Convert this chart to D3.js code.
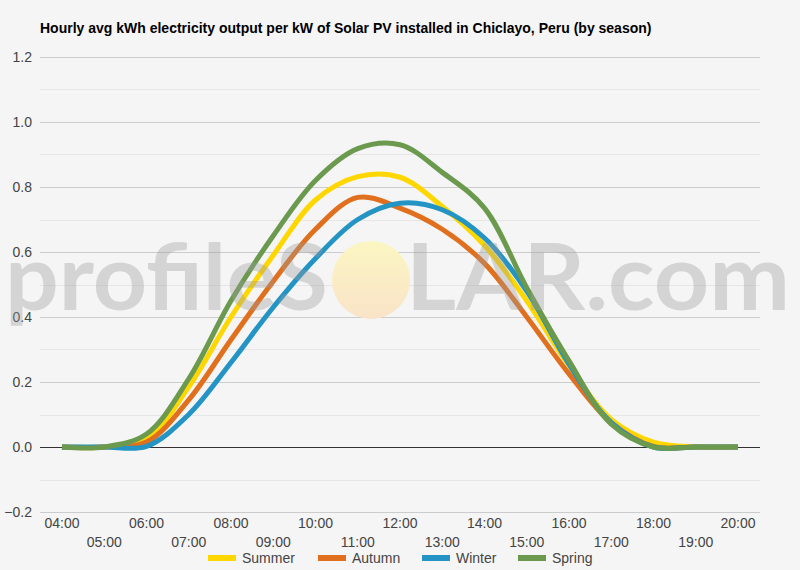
<!DOCTYPE html>
<html>
<head>
<meta charset="utf-8">
<script src="https://cdn.jsdelivr.net/npm/d3@7"></script>
<style>
  html, body { margin: 0; padding: 0; background: #f5f5f5; }
  svg { display: block; font-family: "Liberation Sans", Arial, sans-serif; }
</style>
</head>
<body>
<svg id="chart" width="800" height="570"></svg>
<script>
const titleText = "Hourly avg kWh electricity output per kW of Solar PV installed in Chiclayo, Peru (by season)";
const hours = ["04:00","05:00","06:00","07:00","08:00","09:00","10:00","11:00","12:00","13:00","14:00","15:00","16:00","17:00","18:00","19:00","20:00"];
const summer = [0, 0, 0.025, 0.185, 0.40, 0.59, 0.76, 0.832, 0.83, 0.74, 0.62, 0.45, 0.25, 0.085, 0.015, 0, 0];
const autumn = [0, 0, 0.015, 0.145, 0.33, 0.51, 0.67, 0.768, 0.735, 0.67, 0.565, 0.40, 0.225, 0.075, 0.002, 0, 0];
const winter = [0, 0, 0.002, 0.10, 0.26, 0.43, 0.58, 0.70, 0.75, 0.73, 0.643, 0.48, 0.255, 0.075, 0, 0, 0];
const spring = [0, 0, 0.04, 0.21, 0.45, 0.65, 0.82, 0.918, 0.93, 0.845, 0.735, 0.49, 0.265, 0.07, 0, 0, 0];
const seriesNames = ["Summer", "Autumn", "Winter", "Spring"];
const seriesColors = ["#FFD700", "#E0701E", "#2394C4", "#6B9A4F"];
const yTicks = [-0.2, 0, 0.2, 0.4, 0.6, 0.8, 1.0, 1.2];

const allSeries = [summer, autumn, winter, spring];

const svg = d3.select("#chart");
const W = 800, H = 570;
const plot = { left: 40, right: 760, top: 57, bottom: 512 };

svg.append("rect").attr("width", W).attr("height", H).attr("fill", "#f5f5f5");

const x = d3.scalePoint().domain(hours).range([62, 738]);
const y = d3.scaleLinear().domain([-0.2, 1.2]).range([plot.bottom, plot.top]);

// minor gridlines
const minor = d3.range(-0.1, 1.2, 0.2).map(v => +v.toFixed(2));
svg.append("g").selectAll("line").data(minor).join("line")
  .attr("x1", plot.left).attr("x2", plot.right)
  .attr("y1", d => Math.round(y(d)) + 0.5).attr("y2", d => Math.round(y(d)) + 0.5)
  .attr("stroke", "#e6e6e6").attr("stroke-width", 1);

// major gridlines
svg.append("g").selectAll("line").data(yTicks.filter(v => v !== 0)).join("line")
  .attr("x1", plot.left).attr("x2", plot.right)
  .attr("y1", d => Math.round(y(d)) + 0.5).attr("y2", d => Math.round(y(d)) + 0.5)
  .attr("stroke", "#cccccc").attr("stroke-width", 1);

// y axis labels
const yAxis = d3.axisLeft(y).tickValues(yTicks).tickFormat(d3.format(".1f")).tickSize(0).tickPadding(8);
const yg = svg.append("g").attr("transform", `translate(${plot.left},0)`).call(yAxis);
yg.select(".domain").remove();
yg.selectAll("text").attr("font-size", 14).attr("fill", "#444").attr("font-family", "Liberation Sans, Arial, sans-serif");

// sun (under lines)
const defs = svg.append("defs");
const grad = defs.append("linearGradient").attr("id", "sun").attr("x1", 0).attr("y1", 0).attr("x2", 0).attr("y2", 1);
grad.append("stop").attr("offset", "0%").attr("stop-color", "#fbf6c2");
grad.append("stop").attr("offset", "100%").attr("stop-color", "#f9e3c8");
svg.append("circle").attr("cx", 371).attr("cy", 280).attr("r", 39).attr("fill", "url(#sun)");

// zero baseline
svg.append("line").attr("x1", plot.left).attr("x2", plot.right)
  .attr("y1", Math.round(y(0)) + 0.5).attr("y2", Math.round(y(0)) + 0.5)
  .attr("stroke", "#333").attr("stroke-width", 1);

// lines
const line = d3.line().x((d, i) => x(hours[i])).y(d => y(d)).curve(d3.curveCatmullRom.alpha(0.5));
svg.append("g").selectAll("path").data(allSeries).join("path")
  .attr("d", d => line(d))
  .attr("fill", "none")
  .attr("stroke", (d, i) => seriesColors[i])
  .attr("stroke-width", 5)
  .attr("stroke-linejoin", "round");

// watermark text (overlay)
const wm = svg.append("g").attr("fill", "#9a9a9a").attr("fill-opacity", 0.36)
  .attr("font-family", "Lato, 'Open Sans', sans-serif").attr("font-weight", 700).attr("font-size", 92);
wm.append("text").attr("x", 5).attr("y", 310).attr("textLength", 323).attr("lengthAdjust", "spacingAndGlyphs").text("profileS");
wm.append("text").attr("x", 406).attr("y", 310).attr("textLength", 384).attr("lengthAdjust", "spacingAndGlyphs").text("LAR.com");

// x labels
const xl = svg.append("g").attr("font-size", 14).attr("fill", "#444").attr("text-anchor", "middle");
xl.selectAll("text").data(hours).join("text")
  .attr("x", d => x(d))
  .attr("y", (d, i) => i % 2 === 0 ? 528 : 547)
  .text(d => d);

// title
svg.append("text").attr("x", 40).attr("y", 33).attr("font-size", 14).attr("font-weight", "bold")
  .attr("fill", "#000").text(titleText);

// legend
const legX = [208, 318, 422, 518];
const leg = svg.append("g");
seriesNames.forEach((n, i) => {
  leg.append("rect").attr("x", legX[i]).attr("y", 555).attr("width", 28).attr("height", 6).attr("fill", seriesColors[i]);
  leg.append("text").attr("x", legX[i] + 34).attr("y", 563).attr("font-size", 14).attr("fill", "#444").text(n);
});
</script>
</body>
</html>
